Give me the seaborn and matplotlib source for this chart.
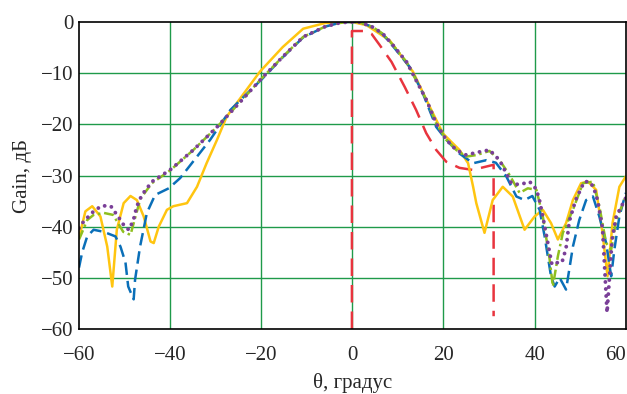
import numpy as np
import pandas as pd
import matplotlib
matplotlib.use("Agg")
import matplotlib.pyplot as plt
import seaborn as sns

# Series (theta in degrees, gain in dB)
yellow_th = [-60, -58.6, -57.1, -55.3, -53.8, -52.7, -51.7, -50.2, -48.7, -47.3, -45.8, -44.3, -43.6,
             -42.5, -40.7, -39.3, -36.3, -34.1, -32, -29.7, -27.6, -24.6, -20.3, -15.3, -10.8, -6, -2,
             0, 3.1, 8.2, 13.3, 17, 19.9, 23.5, 25.4, 26.5, 27.2, 29, 30.8, 33, 35.2, 37.8, 40, 41.8,
             43.6, 45.1, 46.9, 48.4, 50.2, 51.7, 53.5, 54.9, 56, 57.1, 58.6, 60]
yellow_g = [-42.2, -37, -36, -38, -43.9, -51.7, -40.6, -35.4, -34, -34.8, -38, -42.9, -43.2,
            -40, -36.7, -36, -35.4, -32.2, -27.6, -23, -18.5, -14.9, -9.7, -4.9, -1.3, -0.2, 0,
            0, -0.6, -3.6, -9.7, -16.6, -21.8, -25, -27.6, -32.2, -35.4, -41.2, -34.8, -32.2, -34.1,
            -40.6, -38, -36.7, -39.3, -42.5, -39.3, -34.8, -31.5, -31.2, -32.8, -41.2, -49.7, -39.3,
            -32.2, -30.2]

blue_th = [-60, -59.3, -58.2, -56.8, -54.6, -52, -50.9, -49.8, -49.2, -48, -47.7, -46.6, -45.1,
           -43.3, -40.3, -37.8, -34.1, -31.2, -26.8, -22, -19.9, -15.3, -10.8, -6, -3, -1, 1.6,
           4.5, 6.7, 8.9, 12.6, 15.5, 18.4, 20.6, 23.5, 26.5, 29.4, 31.5, 33.8, 36, 37.8, 39.5,
           41.1, 42.2, 43.6, 44.4, 45.5, 46.9, 47.6, 48.4, 49.8, 51.3, 52.8, 54.2, 55.7, 56.8,
           57.5, 58.6, 60]
blue_g = [-48, -45, -41.9, -40.6, -41, -41.9, -43.9, -47, -51.7, -54.2, -50.4, -43.9, -37.3,
          -33.8, -32.5, -30.5, -26.3, -23, -17.2, -13, -11.2, -6.9, -3, -0.9, -0.2, 0, 0,
          -1, -2.4, -4.7, -8.8, -14, -20.5, -23, -25.7, -27.6, -27, -27.5, -30.2, -34.1, -34.8,
          -34, -36.7, -41.9, -49.7, -51.7, -50, -52.3, -48.4, -43.9, -38.7, -34.8, -34.1, -38,
          -43.2, -49.7, -44.5, -38, -33.4]

green_th = [-60, -59.7, -58.2, -56.8, -54.6, -52.5, -50.3, -48.7, -47.6, -46.5, -44, -40, -34.9,
            -29.7, -24.6, -19.9, -15.3, -10.8, -6, -3, -1, 1.6, 4.5, 6.7, 8.9, 11.9, 14, 16.3,
            18.4, 20.6, 22.8, 25, 27.2, 30.1, 32.3, 34.5, 36.7, 38.5, 40.4, 41.8, 43.3, 44, 45.1,
            46.2, 48.4, 50.6, 52.8, 54.2, 55.7, 56.8, 57.9, 60]
green_g = [-42.5, -41.9, -38.7, -37.7, -37.3, -37.7, -41, -41.6, -38, -34.5, -31.5, -29, -25,
           -20.5, -15.6, -11, -6.8, -2.9, -0.9, -0.2, 0, 0, -1, -2.3, -4.5, -7.8, -11.4, -15.3,
           -19.8, -23, -25, -26.3, -26, -25.2, -27, -29.9, -33.4, -32.5, -32.8, -38, -46.4, -51.7,
           -45.8, -41.2, -36.7, -31.5, -31.2, -36, -43.2, -44.5, -38.7, -34.1]

purple_th = [-60, -59, -56.8, -55, -53, -50.9, -49.8, -49, -48, -47.3, -46.2, -44, -40, -34.9,
             -29.7, -24.6, -19.9, -15.3, -10.8, -6, -3, -1, 1.6, 4.5, 6.7, 8.9, 11.9, 14, 16.3,
             18.4, 20.6, 22.8, 25, 27.2, 30.1, 32.3, 34.9, 36.7, 38.9, 40, 40.9, 41.8, 42.9, 43.8,
             45.1, 46, 46.9, 47.6, 49, 50.9, 52, 52.9, 53.8, 54.9, 55.9, 57, 57.9, 60]
purple_g = [-40.3, -39, -37, -35.9, -36, -38.7, -40.2, -40.6, -38.5, -36, -33.8, -31.2, -28.9, -25,
            -20.5, -15.6, -11, -6.8, -2.9, -0.9, -0.2, 0, 0, -1, -2.3, -4.5, -7.8, -11.4, -15.3,
            -19.8, -23, -25, -26, -25.5, -25, -27, -31.5, -31.8, -31.2, -32.2, -34.1, -38, -43.2,
            -47.4, -47, -47, -44.2, -39, -34.8, -31.2, -31.2, -32.2, -34.8, -40.3, -56.8, -42.5,
            -38, -34.4]

red_th = [-0.1, -0.1, 3, 4.2, 6, 8.6, 11.5, 14, 16.2, 18.4, 20.6, 23.5, 26.4, 31, 31]
red_g = [-60, -1.75, -1.75, -2.3, -4.5, -7.8, -12.7, -17.2, -21.7, -25, -27.3, -28.5, -28.9, -27.9, -57.5]

sns.set_style("white")
plt.rcParams['font.family'] = ['Liberation Serif', 'DejaVu Serif']

fig = plt.figure(figsize=(6.27, 3.94), dpi=100)
ax = fig.add_axes([0.126, 0.165, 0.872, 0.779])

grid_c = '#1f9a4a'
for v in range(-40, 60, 20):
    ax.axvline(v, color=grid_c, lw=1.0, zorder=0)
for v in range(-50, 0, 10):
    ax.axhline(v, color=grid_c, lw=1.0, zorder=0)

sns.lineplot(x=red_th, y=red_g, ax=ax, sort=False, estimator=None, color='#e8343e',
             lw=1.8, linestyle=(0, (7, 3.6)))
sns.lineplot(x=yellow_th, y=yellow_g, ax=ax, sort=False, estimator=None, color='#ffc510', lw=1.8)
sns.lineplot(x=blue_th, y=blue_g, ax=ax, sort=False, estimator=None, color='#0a6fb8',
             lw=1.8, linestyle=(0, (5, 2.4)))
sns.lineplot(x=green_th, y=green_g, ax=ax, sort=False, estimator=None, color='#8fbf1f',
             lw=1.8, linestyle=(0, (4, 1.5, 1, 1.5)))
line = sns.lineplot(x=purple_th, y=purple_g, ax=ax, sort=False, estimator=None, color='#7a3f98',
                    lw=2.8, linestyle=(0, (0.01, 1.8))).lines[-1]
line.set_dash_capstyle('round')

ax.set_xlim(-60, 60)
ax.set_ylim(-60, 0)
ax.set_xticks(range(-60, 61, 20))
ax.set_yticks(range(-60, 1, 10))
ax.tick_params(labelsize=15, length=0)
ax.tick_params(axis='x', pad=12)
ax.tick_params(axis='y', pad=4)
ax.get_xticklabels()[-1].set_horizontalalignment('right')
for s in ax.spines.values():
    s.set_color('black')
    s.set_linewidth(1.2)
ax.set_xlabel('θ, градус', fontsize=15, labelpad=6)
ax.set_ylabel('Gain, дБ', fontsize=15, labelpad=6)

fig.savefig('out.png', dpi=100)
